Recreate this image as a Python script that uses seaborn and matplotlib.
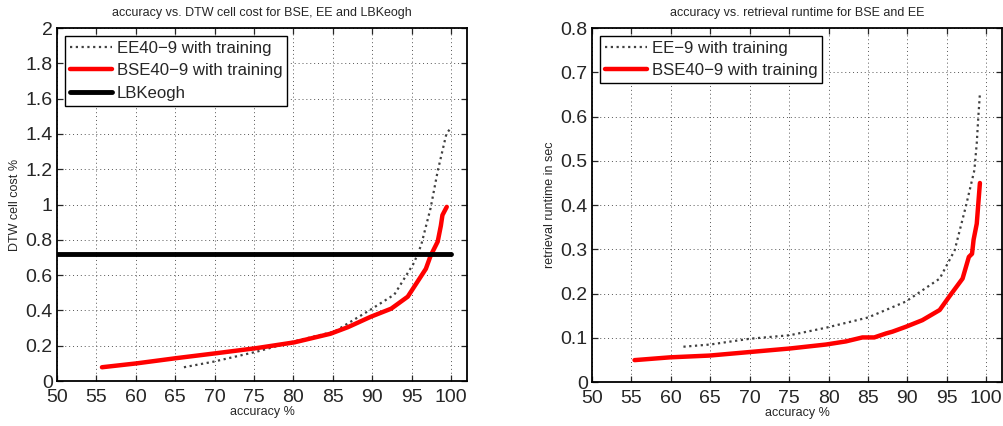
import numpy as np
import pandas as pd
import matplotlib
matplotlib.use("Agg")
import matplotlib.pyplot as plt
import seaborn as sns
from matplotlib.ticker import FuncFormatter, MultipleLocator

# ---- data: left panel (accuracy % vs DTW cell cost %) ----
ee_cost_acc = [66.1, 69.9, 75.4, 80.1, 85.2, 89.8, 92.8, 95.3, 96.2, 97.4, 98.3, 99.4, 99.8]
ee_cost_val = [0.078, 0.11, 0.167, 0.225, 0.28, 0.405, 0.49, 0.67, 0.77, 0.98, 1.19, 1.40, 1.425]
bse_cost_acc = [55.7, 60.1, 65.2, 70.3, 75.4, 80.1, 84.7, 86.9, 89.8, 92.4, 94.5, 96.8, 97.4, 98.3, 98.7, 98.9, 99.45]
bse_cost_val = [0.078, 0.10, 0.13, 0.158, 0.187, 0.219, 0.268, 0.305, 0.364, 0.41, 0.478, 0.636, 0.71, 0.79, 0.88, 0.94, 0.987]
lbk_acc = [50, 100]
lbk_val = [0.72, 0.72]

# ---- data: right panel (accuracy % vs retrieval runtime in sec) ----
ee_rt_acc = [61.6, 65.0, 70.0, 75.1, 79.7, 85.0, 89.8, 94.1, 96.0, 97.4, 98.5, 98.8, 99.0, 99.2]
ee_rt_val = [0.08, 0.085, 0.098, 0.106, 0.123, 0.146, 0.182, 0.234, 0.298, 0.396, 0.479, 0.54, 0.60, 0.652]
bse_rt_acc = [55.4, 59.9, 64.9, 70.0, 75.1, 79.7, 82.2, 84.3, 85.8, 87.3, 88.1, 89.8, 91.9, 94.1, 95.3, 97.0, 97.8, 98.2, 98.4, 98.8, 99.0, 99.2]
bse_rt_val = [0.0497, 0.056, 0.060, 0.068, 0.076, 0.085, 0.092, 0.101, 0.101, 0.11, 0.114, 0.125, 0.14, 0.163, 0.193, 0.234, 0.283, 0.29, 0.322, 0.358, 0.404, 0.45]

left_labels = ["EE40\u22129 with training", "BSE40\u22129 with training", "LBKeogh"]
right_labels = ["EE\u22129 with training", "BSE40\u22129 with training"]

sns.set_style("ticks")
plt.rcParams["font.family"] = ["Liberation Sans", "DejaVu Sans"]
plt.rcParams["axes.unicode_minus"] = True

fig = plt.figure(figsize=(10.04, 4.26), dpi=100)
ax1 = fig.add_axes([0.0568, 0.1056, 0.4082, 0.8284])
ax2 = fig.add_axes([0.5896, 0.103, 0.4084, 0.831])

dot_style = dict(color="#404040", linewidth=1.6, linestyle=(0, (1.0, 1.6)))

# Left panel
sns.lineplot(x=ee_cost_acc, y=ee_cost_val, ax=ax1, label=left_labels[0], sort=False, **dot_style)
sns.lineplot(x=bse_cost_acc, y=bse_cost_val, ax=ax1, label=left_labels[1], sort=False, color="#ff0000", linewidth=3.2)
sns.lineplot(x=lbk_acc, y=lbk_val, ax=ax1, label=left_labels[2], sort=False, color="black", linewidth=3.5)
ax1.set_xlim(50, 102)
ax1.set_ylim(0, 2)
ax1.yaxis.set_major_locator(MultipleLocator(0.2))
ax1.set_title("accuracy vs. DTW cell cost for BSE, EE and LBKeogh", fontsize=9, pad=9)
ax1.set_xlabel("accuracy %", fontsize=9, labelpad=0)
ax1.set_ylabel("DTW cell cost %", fontsize=9, labelpad=3)

# Right panel
sns.lineplot(x=ee_rt_acc, y=ee_rt_val, ax=ax2, label=right_labels[0], sort=False, **dot_style)
sns.lineplot(x=bse_rt_acc, y=bse_rt_val, ax=ax2, label=right_labels[1], sort=False, color="#ff0000", linewidth=3.2)
ax2.set_xlim(50, 102)
ax2.set_ylim(0, 0.8)
ax2.yaxis.set_major_locator(MultipleLocator(0.1))
ax2.set_title("accuracy vs. retrieval runtime for BSE and EE", fontsize=9, pad=9)
ax2.set_xlabel("accuracy %", fontsize=9, labelpad=0)
ax2.set_ylabel("retrieval runtime in sec", fontsize=9, labelpad=3)

fmt = FuncFormatter(lambda v, p: "%g" % round(v, 6))
for ax in (ax1, ax2):
    ax.xaxis.set_major_locator(MultipleLocator(5))
    ax.xaxis.set_major_formatter(fmt)
    ax.yaxis.set_major_formatter(fmt)
    ax.tick_params(direction="in", top=True, right=True, labelsize=14, length=4, width=0.9)
    ax.tick_params(axis="x", pad=6)
    ax.tick_params(axis="y", pad=3)
    ax.grid(True, linestyle=(0, (1, 3)), color="#555555", linewidth=0.7)
    for s in ax.spines.values():
        s.set_linewidth(1.3)
        s.set_color("black")
    leg = ax.legend(loc="upper left", fontsize=12.1, frameon=True, fancybox=False,
                    handlelength=2.5, handletextpad=0.3, borderpad=0.3,
                    labelspacing=0.45, borderaxespad=0.45)
    leg.get_frame().set_edgecolor("black")
    leg.get_frame().set_linewidth(1.0)
    leg.get_frame().set_alpha(1)

fig.savefig("out.png", dpi=100)
